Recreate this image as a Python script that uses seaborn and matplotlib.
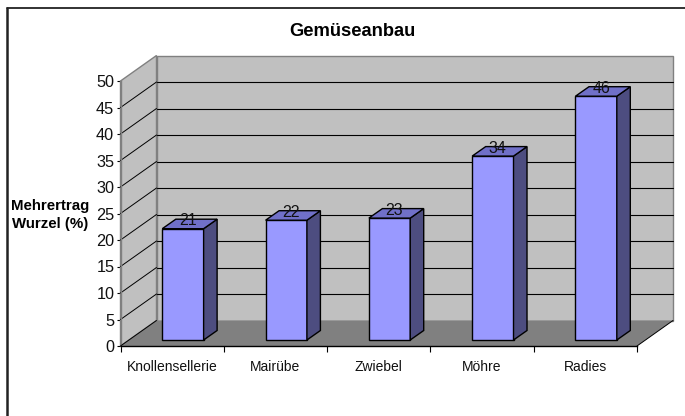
import matplotlib
matplotlib.use("Agg")
import matplotlib.pyplot as plt
import pandas as pd
import seaborn as sns
from matplotlib.lines import Line2D
from matplotlib.patches import Polygon
from matplotlib.transforms import Affine2D, IdentityTransform

categories = ["Knollensellerie", "Mairübe", "Zwiebel", "Möhre", "Radies"]
bar_heights = [21, 22.6, 23, 34.7, 46]
bar_labels = ["21", "22", "23", "34", "46"]
y_ticks = [0, 5, 10, 15, 20, 25, 30, 35, 40, 45, 50]

W, H = 685, 416
FRONT = (120.5, 346, 637, 81)  # pixel box of front plane, from top left of image
DEPTH = (36, 25.5)
BAR_SHIFT = (10.8, 6)
BAR_DEPTH = (13.5, 9.5)

sns.set_theme(style="white")
plt.rcParams["font.family"] = ["Liberation Sans", "DejaVu Sans"]

fig = plt.figure(figsize=(W / 100, H / 100), dpi=100, facecolor="white")
ax = fig.add_axes([FRONT[0] / W, 1 - FRONT[1] / H, (FRONT[2] - FRONT[0]) / W, (FRONT[1] - FRONT[3]) / H])
ax.patch.set_visible(False)

df = pd.DataFrame({"cat": categories, "val": bar_heights})
sns.barplot(data=df, x="cat", y="val", ax=ax, color="#9999FF", saturation=1, width=0.4,
            edgecolor="black", linewidth=1, zorder=5)
ax.set_xlim(-0.5, len(categories) - 0.5)
ax.set_ylim(0, 50)
ax.set_xlabel("")
ax.set_ylabel("")


def px(x, y, dx=0, dy=0):
    a, b = ax.transData.transform((x, y))
    return (a + dx, b + dy)


def poly(pts, zorder, **kw):
    ax.add_patch(Polygon(pts, closed=True, transform=IdentityTransform(), clip_on=False, zorder=zorder, **kw))


def seg(p, q, color="black", lw=1, zorder=2):
    ax.add_line(Line2D([p[0], q[0]], [p[1], q[1]], transform=IdentityTransform(), color=color, lw=lw,
                       clip_on=False, zorder=zorder))


x0, x1 = ax.get_xlim()
dx, dy = DEPTH

# walls and floor
poly([px(x0, 0), px(x0, 0, dx, dy), px(x0, 50, dx, dy), px(x0, 50)], 1, facecolor="#C0C0C0", edgecolor="#808080", lw=1)
poly([px(x0, 0, dx, dy), px(x1, 0, dx, dy), px(x1, 50, dx, dy), px(x0, 50, dx, dy)], 1,
     facecolor="#C0C0C0", edgecolor="#808080", lw=1)
for t in y_ticks[1:-1]:
    seg(px(x0, t), px(x0, t, dx, dy), lw=0.7)
    seg(px(x0, t, dx, dy), px(x1, t, dx, dy), lw=0.8)
poly([px(x0, 0), px(x1, 0), px(x1, 0, dx, dy), px(x0, 0, dx, dy)], 3, facecolor="#808080", edgecolor="none")
seg(px(x0, 0), px(x0, 0, dx, dy), zorder=4, lw=0.7)
seg(px(x1, 0), px(x1, 0, dx, dy), zorder=4, lw=0.7)

# 3d sides of the bars
shift = Affine2D().translate(*BAR_SHIFT)
sx, sy = BAR_SHIFT
bx, by = BAR_DEPTH
for p, label in zip(ax.patches, bar_labels):
    p.set_transform(ax.transData + shift)
    p.set_clip_on(False)
    left, right = p.get_x(), p.get_x() + p.get_width()
    top = p.get_height()
    poly([px(right, 0, sx, sy), px(right, 0, sx + bx, sy + by), px(right, top, sx + bx, sy + by), px(right, top, sx, sy)],
         6, facecolor="#4D4D80", edgecolor="black", lw=1)
    poly([px(left, top, sx, sy), px(right, top, sx, sy), px(right, top, sx + bx, sy + by), px(left, top, sx + bx, sy + by)],
         6, facecolor="#7070C8", edgecolor="black", lw=1)
    cx, cy = px((left + right) / 2, top, sx + 5, sy + 8)
    ax.text(cx, cy, label, transform=IdentityTransform(), ha="center", va="center", fontsize=11.5,
            color="#111111", zorder=7, clip_on=False)

# axes
sns.despine(ax=ax, top=True, right=True)
ax.spines["left"].set_color("#808080")
ax.spines["left"].set_linewidth(1)
ax.spines["bottom"].set_color("black")
ax.spines["bottom"].set_linewidth(1)
ax.spines["bottom"].set_zorder(8)
ax.set_yticks(y_ticks)
ax.tick_params(axis="y", left=True, length=3, width=0.8, color="black", pad=1.5, labelsize=11.7, labelcolor="#111111")
ax.set_xticks(range(len(categories)))
ax.set_xticklabels(categories)
ax.tick_params(axis="x", bottom=False, pad=4, labelsize=10, labelcolor="#111111")
ax.set_xticks([i - 0.5 for i in range(len(categories) + 1)], minor=True)
ax.tick_params(axis="x", which="minor", bottom=True, length=4, width=0.8, color="black")

fig.text(352 / W, 1 - 32 / H, "Gemüseanbau", ha="center", va="center", fontsize=13.2, fontweight="bold", color="black")
fig.text(50.5 / W, 1 - 215 / H, "Mehrertrag\nWurzel (%)", ha="center", va="center", fontsize=10.8,
         fontweight="bold", color="black", linespacing=1.3)

# outer frame, runs off the image at right and bottom
fig.add_artist(Line2D([7 / W, 7 / W], [0, 1 - 7.5 / H], color="#222222", lw=1.8))
fig.add_artist(Line2D([7 / W, 1], [1 - 7.5 / H, 1 - 7.5 / H], color="#222222", lw=1.3))

fig.savefig("out.png", dpi=100)
